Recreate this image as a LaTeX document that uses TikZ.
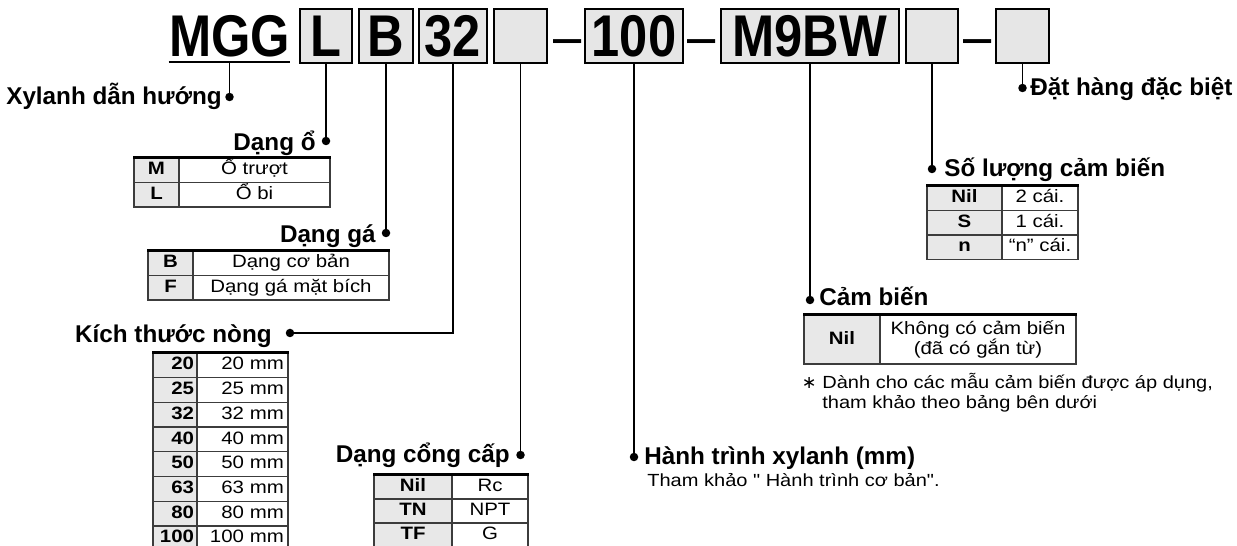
\documentclass[tikz,border=0pt]{standalone}
\usepackage{fontspec}
\setmainfont{Liberation Sans}
\newfontfamily\titlefont[FakeStretch=0.86]{Liberation Sans}
\newfontfamily\tabfont[FakeStretch=1.14]{Liberation Sans}
\newfontfamily\symfont{DejaVu Sans}
\usetikzlibrary{positioning}
\definecolor{cBox} {RGB}{230,230,230}
\definecolor{cKey} {RGB}{232,232,232}
\definecolor{cLine}{RGB}{60,60,60}
\tikzset{
  partB/.style  = {draw=black, line width=1.1pt, fill=cBox, inner sep=0pt,
                   minimum height=1.08cm,
                   font=\titlefont\fontsize{33.5}{38}\selectfont\bfseries},
  partT/.style  = {inner sep=0pt, font=\titlefont\fontsize{33.5}{38}\selectfont\bfseries},
  lbl/.style    = {inner sep=0pt, font=\fontsize{13.8}{16}\selectfont\bfseries},
  note/.style   = {inner sep=0pt, font=\tabfont\fontsize{10}{11.4}\selectfont},
  bullet/.style = {circle, fill=black, inner sep=0pt, minimum size=0.17cm},
  lead/.style   = {line width=1.1pt},
  cellB/.style  = {draw=cLine, line width=0.75pt, inner sep=0pt,
                   font=\tabfont\fontsize{10.2}{11.4}\selectfont},
  keyC/.style   = {cellB, fill=cKey, text height=0.72em, text depth=0.2em,
                   font=\tabfont\fontsize{10.2}{11.4}\selectfont\bfseries},
  valC/.style   = {cellB, fill=white, align=center, text height=0.72em, text depth=0.2em},
  topL/.style   = {line width=1.4pt, black},
}

\begin{document}
\begin{tikzpicture}[x=0.02cm, y=-0.02cm]
\useasboundingbox (0,0) rectangle (1237,546);

%% ─── Part number ─────────────────────────────────────────────
\node[partT, anchor=base] (mgg) at (229.5,57) {MGG};
\draw[lead] ([yshift=-2.3pt]mgg.south west) -- ([yshift=-2.3pt]mgg.south east);
\node[partB, minimum width=1.04cm] (bL)    at (326,36)    {L};
\node[partB, minimum width=1.08cm] (bB)    at (386,36)    {B};
\node[partB, minimum width=1.36cm] (b32)   at (453,36)    {32};
\node[partB, minimum width=1.06cm] (bPort) at (520.5,36)  {};
\node[partT, anchor=base, font=\titlefont\fontsize{33.5}{38}\selectfont] (dash1) at (567.5,57) {–};
\node[partB, minimum width=1.96cm] (b100)  at (634,36)    {100};
\node[partT, anchor=base, font=\titlefont\fontsize{33.5}{38}\selectfont] (dash2) at (702,57) {–};
\node[partB, minimum width=3.56cm] (bSw)   at (810,36)    {M9BW};
\node[partB, minimum width=1.04cm] (bQty)  at (932,36)    {};
\node[partT, anchor=base, font=\titlefont\fontsize{33.5}{38}\selectfont] (dash3) at (977.5,57) {–};
\node[partB, minimum width=1.06cm] (bSpec) at (1022.5,36) {};

%% ─── Bullets and labels ──────────────────────────────────────
\node[bullet] (dXyl)    at (229.5,97)  {};
\node[bullet] (dO)      at (326,141)   {};
\node[bullet] (dGa)     at (386,233)   {};
\node[bullet] (dBore)   at (290,333)   {};
\node[bullet] (dPort)   at (520.5,455) {};
\node[bullet] (dStroke) at (634,457)   {};
\node[bullet] (dSw)     at (810,300)   {};
\node[bullet] (dQty)    at (932,169)   {};
\node[bullet] (dSpec)   at (1022.5,88) {};

\node[lbl, anchor=base east] (tXyl)    at (222,105)  {Xylanh dẫn hướng};
\node[lbl, anchor=base east] (tO)      at (316,151)  {Dạng ổ};
\node[lbl, anchor=base east] (tGa)     at (376,243)  {Dạng gá};
\node[lbl, anchor=base east] (tBore)   at (272,343)  {Kích thước nòng};
\node[lbl, anchor=base east] (tPort)   at (510,463)  {Dạng cổng cấp};
\node[lbl, anchor=base west] (tStroke) at (644,465)  {Hành trình xylanh (mm)};
\node[lbl, anchor=base west] (tSw)     at (819,306)  {Cảm biến};
\node[lbl, anchor=base west] (tQty)    at (944,177)  {Số lượng cảm biến};
\node[lbl, anchor=base west] (tSpec)   at (1030,96)  {Đặt hàng đặc biệt};

\node[note, anchor=base west] (nStroke) at (647,487) {Tham khảo " Hành trình cơ bản".};

%% leaders
\draw[lead] ([yshift=-2.3pt]mgg.south) -- (dXyl.center);
\draw[lead] (bL.south)    -- (dO.center);
\draw[lead] (bB.south)    -- (dGa.center);
\draw[lead] (b32.south)   |- (dBore.center);
\draw[lead] (bPort.south) -- (dPort.center);
\draw[lead] (b100.south)  -- (dStroke.center);
\draw[lead] (bSw.south)   -- (dSw.center);
\draw[lead] (bQty.south)  -- (dQty.center);
\draw[lead] (bSpec.south) -- (dSpec.center);

%% ─── Dạng ổ ──────────────────────────────────────────────────
\node[keyC, minimum width=0.9cm,  minimum height=0.49cm] (oM)  at (156.5,170.25) {M};
\node[valC, minimum width=3.02cm, minimum height=0.49cm] (oMv) at (254.5,170.25) {Ổ trượt};
\node[keyC, minimum width=0.9cm,  minimum height=0.49cm] (oL)  at (156.5,194.75) {L};
\node[valC, minimum width=3.02cm, minimum height=0.49cm] (oLv) at (254.5,194.75) {Ổ bi};
\draw[topL] (oM.north west) -- (oMv.north east);

%% ─── Dạng gá ─────────────────────────────────────────────────
\node[keyC, minimum width=0.9cm,  minimum height=0.49cm] (gB)  at (170.5,263.25) {B};
\node[valC, minimum width=3.92cm, minimum height=0.49cm] (gBv) at (291,263.25)   {Dạng cơ bản};
\node[keyC, minimum width=0.9cm,  minimum height=0.49cm] (gF)  at (170.5,287.75) {F};
\node[valC, minimum width=3.92cm, minimum height=0.49cm] (gFv) at (291,287.75)   {Dạng gá mặt bích};
\draw[topL] (gB.north west) -- (gBv.north east);

%% ─── Kích thước nòng ─────────────────────────────────────────
\foreach \v [count=\i] in {20,25,32,40,50,63,80,100}{
  \node[keyC, minimum height=0.494cm, text width=0.76cm, inner xsep=0.06cm, align=right]
    (k\v) at (175,340.65+\i*24.7) {\v};
  \node[valC, minimum height=0.494cm, text width=1.66cm, inner xsep=0.08cm, align=right]
    (v\v) at (242.5,340.65+\i*24.7) {\v\ mm};
}
\draw[topL] (k20.north west) -- (v20.north east);

%% ─── Dạng cổng cấp ───────────────────────────────────────────
\node[keyC, minimum width=1.56cm, minimum height=0.48cm] (pNil)  at (413,487) {Nil};
\node[valC, minimum width=1.52cm, minimum height=0.48cm] (pNilv) at (490,487) {Rc};
\node[keyC, minimum width=1.56cm, minimum height=0.48cm] (pTN)   at (413,511) {TN};
\node[valC, minimum width=1.52cm, minimum height=0.48cm] (pTNv)  at (490,511) {NPT};
\node[keyC, minimum width=1.56cm, minimum height=0.48cm] (pTF)   at (413,535) {TF};
\node[valC, minimum width=1.52cm, minimum height=0.48cm] (pTFv)  at (490,535) {G};
\draw[topL] (pNil.north west) -- (pNilv.north east);

%% ─── Cảm biến ────────────────────────────────────────────────
\node[keyC, minimum width=1.52cm, minimum height=0.98cm] (sNil)  at (842,339.5) {Nil};
\node[cellB, fill=white, align=center, minimum width=3.92cm, minimum height=0.98cm]
  (sNilv) at (978,339.5) {Không có cảm biến\\(đã có gắn từ)};
\draw[topL] (sNil.north west) -- (sNilv.north east);

\node[note, anchor=base east] (fnStar) at (817,389) {\symfont ∗};
\node[note, anchor=base west] (fn1)    at (822,389) {Dành cho các mẫu cảm biến được áp dụng,};
\node[note, anchor=base west] (fn2)    at (822,409) {tham khảo theo bảng bên dưới};

%% ─── Số lượng cảm biến ───────────────────────────────────────
\node[keyC, minimum width=1.5cm,  minimum height=0.49cm] (qNil)  at (964.5,198.25) {Nil};
\node[valC, minimum width=1.52cm, minimum height=0.49cm] (qNilv) at (1040,198.25)  {2 cái.};
\node[keyC, minimum width=1.5cm,  minimum height=0.49cm] (qS)    at (964.5,222.75) {S};
\node[valC, minimum width=1.52cm, minimum height=0.49cm] (qSv)   at (1040,222.75)  {1 cái.};
\node[keyC, minimum width=1.5cm,  minimum height=0.49cm] (qn)    at (964.5,247.25) {n};
\node[valC, minimum width=1.52cm, minimum height=0.49cm] (qnv)   at (1040,247.25)  {“n” cái.};
\draw[topL] (qNil.north west) -- (qNilv.north east);

\end{tikzpicture}
\end{document}
